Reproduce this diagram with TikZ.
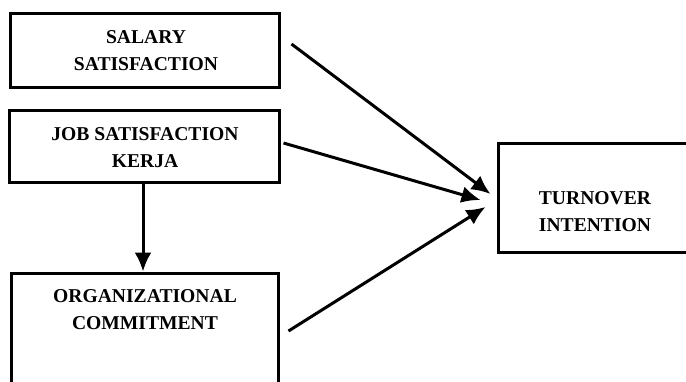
\documentclass[tikz,border=0pt]{standalone}
\usepackage{fontspec}
\setmainfont{Liberation Serif}
\usetikzlibrary{arrows.meta,calc}

\tikzset{
  box/.style={draw,line width=3pt,inner sep=0pt},
  lbl/.style={font=\bfseries\fontsize{19.6}{27}\selectfont,align=center,inner sep=0pt},
  link/.style={-{Latex[length=19pt,width=17pt]},line width=3pt}
}

\begin{document}
\begin{tikzpicture}[x=1pt,y=-1pt]
    \clip (0,0) rectangle (686,381);
    \useasboundingbox (0,0) rectangle (686,381);
    \node[box,minimum width=269pt,minimum height=74pt] (sal) at (144.5,50) {};
    \node[box,minimum width=270pt,minimum height=72pt] (job) at (144,146) {};
    \node[box,minimum width=267pt,minimum height=122pt] (org) at (144.5,334) {};
    \node[box,minimum width=194pt,minimum height=109pt] (turn) at (595,197.5) {};
    \node[lbl] (salT) at (146,51) {SALARY\\SATISFACTION};
    \node[lbl] (jobT) at (145,148) {JOB SATISFACTION\\KERJA};
    \node[lbl] (orgT) at (145,310) {ORGANIZATIONAL\\COMMITMENT};
    \node[lbl] (turnT) at (595,212) {TURNOVER\\INTENTION};
    \path[link]
    ($(sal.east)+(11,-6)$) edge ($(turn.west)+(-6,-3.5)$)
    ($(job.east)+(3,-3)$) edge ($(turn.west)+(-16,2.5)$)
    ($(org.east)+(9,-3)$) edge ($(turn.west)+(-11,9.5)$)
    (job.south -| 143,0) edge (org.north -| 143,0)
;
  \end{tikzpicture}
\end{document}
